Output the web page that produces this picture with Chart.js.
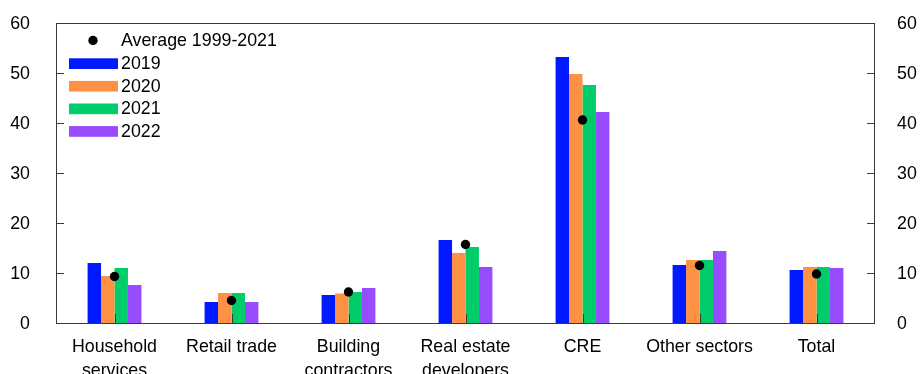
<!DOCTYPE html>
<html lang="en">
<head>
    <meta charset="UTF-8">
    <title>Share of loans by sector</title>
    <script src="https://cdn.jsdelivr.net/npm/chart.js"></script>
    <style>
        html, body { margin: 0; padding: 0; background: #fff; }
        .chart-container { position: relative; width: 923px; height: 374px; }
    </style>
</head>
<body>
    <div class="chart-container">
        <canvas id="sectorChart"></canvas>
    </div>

    <script>
        // Data
        const categories = [
            ['Household', 'services'],
            'Retail trade',
            ['Building', 'contractors'],
            ['Real estate', 'developers'],
            'CRE',
            'Other sectors',
            'Total'
        ];
        const years = ['2019', '2020', '2021', '2022'];
        const values2019 = [12.0, 4.2, 5.6, 16.6, 53.2, 11.6, 10.6];
        const values2020 = [9.4, 6.0, 5.9, 14.0, 49.8, 12.6, 11.2];
        const values2021 = [11.0, 6.0, 6.2, 15.2, 47.6, 12.6, 11.2];
        const values2022 = [7.6, 4.2, 7.0, 11.2, 42.2, 14.4, 11.0];
        const averageLabel = 'Average 1999-2021';
        const average = [9.3, 4.5, 6.2, 15.7, 40.6, 11.5, 9.8];
        const yTicks = [0, 10, 20, 30, 40, 50, 60];

        const colors = ['#0019ff', '#ff9145', '#00cd69', '#984cff'];
        const axisColor = '#3a3a3a';
        const fontFamily = '"Liberation Sans", Arial, Helvetica, sans-serif';
        const fontSize = 17.8;

        Chart.defaults.font.family = fontFamily;
        Chart.defaults.font.size = fontSize;
        Chart.defaults.color = '#000';

        const seriesValues = [values2019, values2020, values2021, values2022];

        // Frame, inward tick marks and legend
        const framePlugin = {
            id: 'frame',
            afterDraw(chart) {
                const ctx = chart.ctx;
                const area = chart.chartArea;
                const y = chart.scales.y;
                const x = chart.scales.x;

                ctx.save();
                ctx.strokeStyle = axisColor;
                ctx.lineWidth = 1;
                ctx.strokeRect(Math.round(area.left) + 0.5, Math.round(area.top) + 0.5,
                    Math.round(area.right - area.left) - 1, Math.round(area.bottom - area.top));

                ctx.beginPath();
                yTicks.forEach(v => {
                    const py = Math.round(y.getPixelForValue(v)) + 0.5;
                    ctx.moveTo(area.left, py);
                    ctx.lineTo(area.left + 8, py);
                    ctx.moveTo(area.right, py);
                    ctx.lineTo(area.right - 8, py);
                });
                categories.forEach((c, i) => {
                    const px = Math.round(x.getPixelForValue(i)) + 0.5;
                    ctx.moveTo(px, area.bottom);
                    ctx.lineTo(px, area.bottom - 9);
                });
                ctx.stroke();

                // legend
                ctx.font = fontSize + 'px ' + fontFamily;
                ctx.textBaseline = 'middle';
                ctx.fillStyle = '#000';
                ctx.beginPath();
                ctx.arc(93, 40.5, 4.7, 0, Math.PI * 2);
                ctx.fill();
                ctx.fillText(averageLabel, 121, 41.5);

                years.forEach((label, i) => {
                    const top = 58.3 + i * 22.6;
                    ctx.fillStyle = colors[i];
                    ctx.fillRect(69, top, 49, 10.7);
                    ctx.fillStyle = '#000';
                    ctx.fillText(label, 121, top + 6);
                });
                ctx.restore();
            }
        };

        const datasets = years.map((label, i) => ({
            type: 'bar',
            label: label,
            data: seriesValues[i],
            backgroundColor: colors[i],
            borderWidth: 0,
            categoryPercentage: 0.46,
            barPercentage: 1.0,
            yAxisID: 'y',
            order: 1
        }));
        datasets.push({
            type: 'line',
            label: averageLabel,
            data: average,
            showLine: false,
            pointRadius: 4.7,
            pointBackgroundColor: '#000',
            pointBorderWidth: 0,
            yAxisID: 'y',
            order: 0
        });

        // keep the plot box fixed regardless of label sizes
        function fitVertical(width) {
            return function (scale) {
                scale.width = width;
                scale.paddingTop = 0;
                scale.paddingBottom = 0;
            };
        }

        new Chart(document.getElementById('sectorChart'), {
            type: 'bar',
            data: { labels: categories, datasets: datasets },
            options: {
                responsive: true,
                maintainAspectRatio: false,
                animation: false,
                layout: { padding: { top: 23, left: 0, right: 0, bottom: 0 } },
                plugins: {
                    legend: { display: false },
                    tooltip: { enabled: false }
                },
                scales: {
                    x: {
                        grid: { display: false, drawTicks: false },
                        border: { display: false },
                        ticks: {
                            padding: 13,
                            maxRotation: 0,
                            autoSkip: false,
                            font: { size: fontSize, lineHeight: 1.3 }
                        },
                        afterFit(scale) {
                            scale.height = 51;
                            scale.paddingLeft = 0;
                            scale.paddingRight = 0;
                        }
                    },
                    y: {
                        position: 'left',
                        min: 0,
                        max: 60,
                        grid: { display: false, drawTicks: false },
                        border: { display: false },
                        ticks: { stepSize: 10, padding: 26, labelOffset: 1.5 },
                        afterFit: fitVertical(56)
                    },
                    y1: {
                        position: 'right',
                        min: 0,
                        max: 60,
                        grid: { display: false, drawTicks: false },
                        border: { display: false },
                        ticks: { stepSize: 10, padding: 22, labelOffset: 1.5 },
                        afterFit: fitVertical(48)
                    }
                }
            },
            plugins: [framePlugin]
        });
    </script>
</body>
</html>
